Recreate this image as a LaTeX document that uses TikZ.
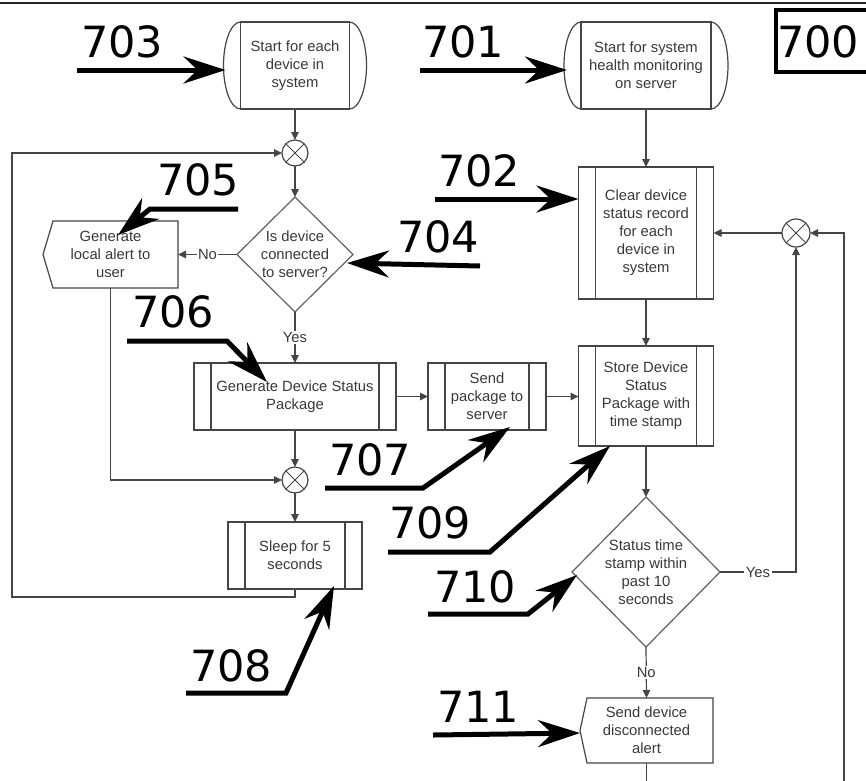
\documentclass[tikz,border=0pt]{standalone}
\usepackage{fontspec}
\setmainfont{Liberation Sans}
\newfontfamily\numfont{DejaVu Sans}
\usetikzlibrary{arrows.meta,shapes.geometric}
\definecolor{linec}{HTML}{454545}
\definecolor{txtc}{HTML}{383838}

% rounded caps of a terminal block
\newcommand\termcaps[2]{%
  \draw[plain] (#1.north west) arc[start angle=90,end angle=270,x radius=17pt,y radius=#2]
               (#1.north east) arc[start angle=90,end angle=-90,x radius=17pt,y radius=#2];}
% display block: pointed left side
\newcommand\dispoutline[2]{%
  \draw[plain] (#1.west) -- ([xshift=#2]#1.north west) -- (#1.north east)
     -- (#1.south east) -- ([xshift=#2]#1.south west) -- cycle;}

\begin{document}
\begin{tikzpicture}[x=1pt,y=-1pt,
  every node/.style={inner sep=0pt, outer sep=0pt},
  txt/.style={font=\fontsize{14.8}{18}\selectfont, text=txtc, align=center},
  plain/.style={draw=linec, line width=1.2pt},
  flow/.style={plain, -{Triangle[length=8pt,width=7.5pt]}},
  term/.style={txt, plain, rectangle},
  subproc/.style={txt, plain, rectangle,
    path picture={\draw[linec, line width=1.2pt]
      ([xshift=17pt]path picture bounding box.north west) -- ([xshift=17pt]path picture bounding box.south west)
      ([xshift=-17pt]path picture bounding box.north east) -- ([xshift=-17pt]path picture bounding box.south east);}},
  disp/.style={txt, rectangle},
  decision/.style={diamond, draw=linec!85, line width=1.2pt},
  merge/.style={circle, plain, minimum size=26pt,
    path picture={\draw[linec, line width=1pt]
      (path picture bounding box.north west) -- (path picture bounding box.south east)
      (path picture bounding box.north east) -- (path picture bounding box.south west);}},
  lbl/.style={txt, fill=white, inner sep=1.5pt},
  num/.style={font=\numfont\fontsize{43}{43}\selectfont, text=black},
  callout/.style={line width=5pt, line join=miter, -{Stealth[length=42pt,width=27pt,inset=14pt]}}
]
\useasboundingbox (0,0) rectangle (866,780);
\clip (0,0) rectangle (866,780);

% frame rule along the top edge
\draw[line width=2.5pt, black!85] (0,3) -- (866,3);

% ---------------- device side (left column) ----------------
\node[term, minimum width=109pt, minimum height=87pt] (s703) at (295,65.5)
  {Start for each\\device in\\system};
\termcaps{s703}{43.5pt}
\node[merge] (m1) at (295,153) {};
\node[decision, minimum width=116pt, minimum height=115pt,
      label={[txt]center:Is device\\connected\\to server?}] (d704) at (295,254.5) {};
\node[disp, minimum width=135pt, minimum height=67pt] (la) at (110.5,254.5)
  {Generate\\local alert to\\user};
\dispoutline{la}{10pt}
\node[subproc, minimum width=202pt, minimum height=67pt] (gen) at (295,396.5)
  {Generate Device Status\\Package};
\node[subproc, minimum width=118pt, minimum height=67pt] (send) at (487,396.5)
  {Send\\package to\\server};
\node[merge] (m2) at (295,480) {};
\node[subproc, minimum width=134pt, minimum height=67pt] (sleep) at (295,555.5)
  {Sleep for 5\\seconds};
\coordinate (loopc) at (12,597);

% ---------------- server side (right column) ----------------
\node[term, minimum width=130pt, minimum height=87pt] (s701) at (646,65.5)
  {Start for system\\health monitoring\\on server};
\termcaps{s701}{43.5pt}
\node[subproc, minimum width=135pt, minimum height=132pt] (clear) at (646,233)
  {Clear device\\status record\\for each\\device in\\system};
\node[merge, minimum size=28pt] (m3) at (796,233) {};
\node[subproc, minimum width=135pt, minimum height=100pt] (store) at (646,396)
  {Store Device\\Status\\Package with\\time stamp};
\node[decision, minimum width=148pt, minimum height=150pt,
      label={[txt]center:Status time\\stamp within\\past 10\\seconds}] (d710) at (646,572) {};
\node[disp, minimum width=133pt, minimum height=65pt] (da) at (646.5,730.5)
  {Send device\\disconnected\\alert};
\dispoutline{da}{7pt}
\coordinate (dabot) at (646.5,790);
\coordinate (rbot) at (844,790);

% ---------------- flow connectors ----------------
\draw[flow] (s703) -- (m1);
\draw[flow] (m1) -- (d704);
\draw[flow] (d704.west) -- node[lbl]{No} (la.east);
\draw[flow] (d704.south) -- node[lbl]{Yes} (gen.north);
\draw[flow] (gen.east) -- (send.west);
\draw[flow] (send.east) -- (send.east -| store.west);
\draw[flow] (gen.south) -- (m2.north);
\draw[flow] (la.south) |- (m2.west);
\draw[flow] (m2.south) -- (sleep.north);
\draw[flow] (sleep.south) |- (loopc) |- (m1.west);

\draw[flow] (s701.south) -- (clear.north);
\draw[flow] (clear.south) -- (store.north);
\draw[flow] (store.south) -- (d710.north);
\draw[flow] (d710.east) -| node[lbl, pos=0.25]{Yes} (m3.south);
\draw[flow] (m3.west) -- (m3.west -| clear.east);
\draw[flow] (rbot) |- (m3.east);
\draw[flow] (d710.south) -- node[lbl]{No} (da.north);
\draw[plain] (da.south) -- (dabot);

% ---------------- reference numerals ----------------
\node[num, anchor=base west] (l703) at (81,57) {703};
\node[num, anchor=base west] (l701) at (422,57) {701};
\node[num, anchor=base west] (l702) at (438,186) {702};
\node[num, anchor=base west] (l705) at (157,195) {705};
\node[num, anchor=base west] (l704) at (397,252) {704};
\node[num, anchor=base west] (l706) at (132,327) {706};
\node[num, anchor=base west] (l707) at (329,475) {707};
\node[num, anchor=base west] (l708) at (190,681) {708};
\node[num, anchor=base west] (l709) at (389,538) {709};
\node[num, anchor=base west] (l710) at (434,602) {710};
\node[num, anchor=base west] (l711) at (437,722) {711};
\node[num, anchor=base west] (l700) at (777,57) {700};
\draw[line width=3.5pt] (776,10) rectangle (905,72);

\coordinate (t703) at (77,70);
\coordinate (t701) at (420,70);
\coordinate (t702) at (435,199);
\coordinate (t705) at (238,209);
\coordinate (t704) at (480,266);
\coordinate (t706) at (127,341);
\coordinate (t707) at (325,488);
\coordinate (t708) at (186,693);
\coordinate (t709) at (388,552);
\coordinate (t710) at (428,614);
\coordinate (t711) at (433,735);

\draw[callout] (t703) -- ([shift={(-15,4.5)}]s703.west);
\draw[callout] (t701) -- ([shift={(-14,4.5)}]s701.west);
\draw[callout] (t702) -- ([shift={(0,-34)}]clear.west);
\draw[callout] (t705) -- (150,209) -- ([shift={(7.5,14)}]la.north);
\draw[callout] (t704) -- ([shift={(-6,8.5)}]d704.east);
\draw[callout] (t706) -- (227,341) -- ([shift={(-28,19)}]gen.north);
\draw[callout] (t707) -- (423,488) -- ([shift={(23,-3)}]send.south);
\draw[callout] (t708) -- (286,693) -- ([shift={(39,-3)}]sleep.south);
\draw[callout] (t709) -- (490,552) -- ([shift={(-36,0)}]store.south);
\draw[callout] (t710) -- (528,614) -- ([shift={(5,3)}]d710.west);
\draw[callout] (t711) -- ([shift={(0,2.5)}]da.west);
\end{tikzpicture}
\end{document}
